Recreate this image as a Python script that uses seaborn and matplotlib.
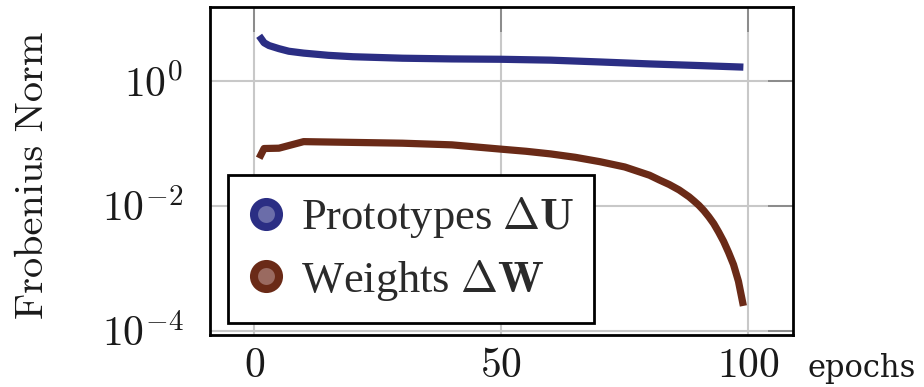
import numpy as np
import pandas as pd
import matplotlib
matplotlib.use("Agg")
import matplotlib.pyplot as plt
from matplotlib.lines import Line2D
from matplotlib.ticker import FixedLocator, FixedFormatter, NullLocator
import seaborn as sns

# ---- data ----
epochs_u = [1, 2, 3, 5, 7, 10, 15, 20, 30, 40, 50, 60, 70, 80, 90, 99]
norm_u = [5.3, 4.1, 3.7, 3.3, 3.0, 2.8, 2.58, 2.45, 2.32, 2.26, 2.23, 2.16, 2.02, 1.88, 1.77, 1.67]

epochs_w = [1, 2, 5, 10, 20, 30, 40, 50, 55, 60, 65, 70, 75, 80, 82, 84, 86, 88, 89,
            90, 91, 92, 93, 94, 95, 96, 97, 98, 99]
norm_w = [0.058, 0.083, 0.084, 0.107, 0.104, 0.101, 0.095, 0.081, 0.075, 0.068, 0.060,
          0.051, 0.042, 0.031, 0.026, 0.022, 0.018, 0.014, 0.012, 0.0102, 0.0084, 0.0067,
          0.0052, 0.0038, 0.0027, 0.0018, 0.00115, 0.00062, 0.00025]

series_names = ["Prototypes", "Weights"]
legend_labels = [r"Prototypes $\Delta\mathbf{U}$", r"Weights $\Delta\mathbf{W}$"]
colors = ["#2b2e84", "#6a2a17"]
face_colors = ["#6b6da9", "#9a6a60"]

x_ticks = [0, 50, 100]
x_ticklabels = ["$0$", "$50$", "$100$"]
y_ticks = [1e-4, 1e-2, 1e0]
y_ticklabels = [r"$10^{-4}$", r"$10^{-2}$", r"$10^{0}$"]

df = pd.concat([
    pd.DataFrame({"epoch": epochs_u, "norm": norm_u, "series": series_names[0]}),
    pd.DataFrame({"epoch": epochs_w, "norm": norm_w, "series": series_names[1]}),
], ignore_index=True)

# ---- style ----
sns.set_style("white")
plt.rcParams["mathtext.fontset"] = "cm"
plt.rcParams["font.family"] = ["Liberation Serif", "DejaVu Serif"]

fig = plt.figure(figsize=(9.24, 3.87), dpi=100)
ax = fig.add_axes([0.227, 0.134, 0.631, 0.847])

sns.lineplot(data=df, x="epoch", y="norm", hue="series", hue_order=series_names,
             palette=dict(zip(series_names, colors)), linewidth=5.2, legend=False,
             estimator=None, ax=ax, solid_capstyle="butt", solid_joinstyle="round")

ax.set_yscale("log")
ax.set_xlim(-9, 109)
ax.set_ylim(10 ** -4.07, 10 ** 1.18)

ax.xaxis.set_major_locator(FixedLocator(x_ticks))
ax.xaxis.set_major_formatter(FixedFormatter(x_ticklabels))
ax.yaxis.set_major_locator(FixedLocator(y_ticks))
ax.yaxis.set_major_formatter(FixedFormatter(y_ticklabels))
ax.xaxis.set_minor_locator(NullLocator())
ax.yaxis.set_minor_locator(NullLocator())

ax.grid(True, color="#c8c8c8", linewidth=1.5)
ax.set_axisbelow(True)
for s in ax.spines.values():
    s.set_color("black")
    s.set_linewidth(2)

ax.tick_params(axis="both", which="major", direction="in", length=18, width=1.2,
               color="#808080", top=True, right=True, labelsize=30,
               labelcolor="#1a1a1a")
ax.tick_params(axis="x", pad=9)
ax.tick_params(axis="y", pad=19)

ax.set_xlabel("")
ax.set_ylabel("Frobenius Norm", fontsize=29, family="cmr10", color="#1a1a1a")
ax.yaxis.set_label_coords(-0.272, 0.488)

ax.text(1.026, -0.128, "epochs", transform=ax.transAxes, fontsize=22,
        family="DejaVu Serif", color="#1a1a1a", ha="left", va="baseline")

handles = [Line2D([], [], linestyle="none", marker="o", markersize=18,
                  markeredgewidth=5.8, markeredgecolor=c, markerfacecolor=f)
           for c, f in zip(colors, face_colors)]
leg = ax.legend(handles, legend_labels, loc="lower left", bbox_to_anchor=(0.031, 0.037),
                borderaxespad=0, fontsize=32, frameon=True, fancybox=False,
                framealpha=1, edgecolor="black", handlelength=0.8, handletextpad=0.4,
                labelspacing=0.4, borderpad=0.45)
leg.get_frame().set_linewidth(2)
for t in leg.get_texts():
    t.set_color("#2a2a2a")

fig.savefig("out.png", dpi=100)
